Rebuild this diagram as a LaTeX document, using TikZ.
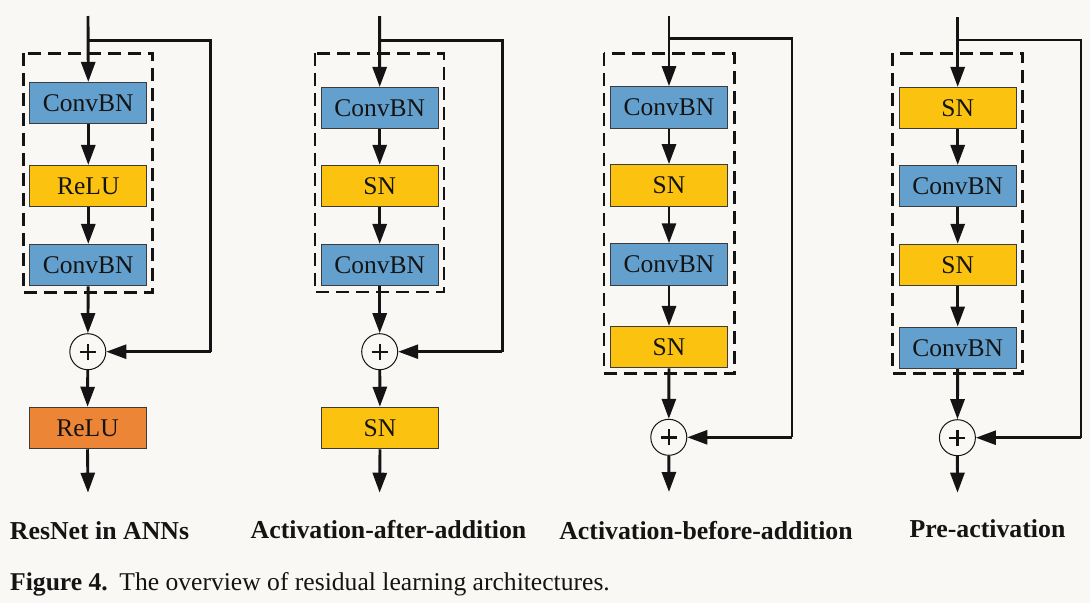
\documentclass[tikz,border=0pt]{standalone}
\usepackage{fontspec}
\setmainfont{Liberation Serif}
\usetikzlibrary{arrows.meta}
\definecolor{bg}{HTML}{F9F8F4}
\definecolor{cbn}{HTML}{64A0CD}
\definecolor{snc}{HTML}{FBC210}
\definecolor{orc}{HTML}{ED8536}
\definecolor{ink}{HTML}{141414}
\definecolor{edge}{HTML}{3C3C3C}
\tikzset{
  blk/.style={draw=edge, line width=1pt, minimum width=117pt, minimum height=41.5pt, inner sep=0pt,
    font=\fontsize{25.5}{30}\selectfont, text=ink},
  convbn/.style={blk, fill=cbn},
  snbox/.style={blk, fill=snc},
  relubox/.style={blk, fill=orc},
  adder/.style={circle, draw=ink, line width=1pt, minimum size=36pt, inner sep=0pt, fill=bg,
    path picture={\draw[ink, line width=2.4pt] ([xshift=-8pt]path picture bounding box.center) -- ([xshift=8pt]path picture bounding box.center);
                  \draw[ink, line width=2.4pt] ([yshift=-8pt]path picture bounding box.center) -- ([yshift=8pt]path picture bounding box.center);}},
  flow/.style={ink, line width=2.9pt, -{Triangle[length=20pt,width=14pt]}},
  skipline/.style={ink, line width=2.6pt},
  skiparrow/.style={ink, line width=2.6pt, -{Triangle[length=20pt,width=14pt]}},
  groupbox/.style={ink, line width=2.8pt, dash pattern=on 13pt off 7pt},
  title/.style={font=\bfseries\fontsize{25.8}{30}\selectfont, text=ink, anchor=base, inner sep=0pt},
}
\begin{document}
\begin{tikzpicture}[x=1pt,y=-1pt]
\fill[bg] (0,0) rectangle (1090,603);
\useasboundingbox (0,0) rectangle (1090,603);

% ---------- Column 1: ResNet in ANNs ----------
\draw[groupbox] (23.3,53.3) rectangle (152.7,292.5);
\coordinate (in1) at (88,16);
\coordinate (j1) at (88,40.7);
\coordinate (r1a) at (210.7,40.7);
\coordinate (r1b) at (210.7,351.7);
\coordinate (out1) at (88,492.7);
\node[convbn] (a1) at (88.3,103.2) {ConvBN};
\node[snbox] (a2) at (88.3,186.2) {ReLU};
\node[convbn] (a3) at (88.3,265.2) {ConvBN};
\node[adder] (p1) at (87.8,351.7) {};
\node[relubox] (a4) at (87.5,428) {ReLU};
\draw[flow] (in1) -- (a1.north);
\draw[flow] (a1) -- (a2);
\draw[flow] (a2) -- (a3);
\draw[flow] (a3) -- (p1);
\draw[flow] (p1) -- (a4);
\draw[flow] (a4.south) -- (out1);
\draw[skipline] (j1) -- (r1a) -- (r1b);
\draw[skiparrow] (r1b) -- (p1.east);
\node[title] (t1) at (99.5,539) {ResNet in ANNs};

% ---------- Column 2: Activation-after-addition ----------
\draw[groupbox] (315,53.3) rectangle (444,292);
\coordinate (in2) at (379.6,16);
\coordinate (j2) at (379.6,40.7);
\coordinate (r2a) at (502.3,40.7);
\coordinate (r2b) at (502.3,351.7);
\coordinate (out2) at (379.6,492.7);
\node[convbn] (b1) at (379.7,108.2) {ConvBN};
\node[snbox] (b2) at (379.7,186) {SN};
\node[convbn] (b3) at (379.7,265.2) {ConvBN};
\node[adder] (p2) at (379.7,351.7) {};
\node[snbox] (b4) at (380,428) {SN};
\draw[flow] (in2) -- (b1.north);
\draw[flow] (b1) -- (b2);
\draw[flow] (b2) -- (b3);
\draw[flow] (b3) -- (p2);
\draw[flow] (p2) -- (b4);
\draw[flow] (b4.south) -- (out2);
\draw[skipline] (j2) -- (r2a) -- (r2b);
\draw[skiparrow] (r2b) -- (p2.east);
\node[title] (t2) at (388.5,538.5) {Activation-after-addition};

% ---------- Column 3: Activation-before-addition ----------
\draw[groupbox] (604,53.3) rectangle (734.5,373.3);
\coordinate (in3) at (669,16);
\coordinate (j3) at (669,38.7);
\coordinate (r3a) at (792,38.7);
\coordinate (r3b) at (792,437.3);
\coordinate (out3) at (669,492);
\node[convbn] (c1) at (669,107.4) {ConvBN};
\node[snbox] (c2) at (669,185.4) {SN};
\node[convbn] (c3) at (669,264.5) {ConvBN};
\node[snbox] (c4) at (669,347.2) {SN};
\node[adder] (p3) at (668.8,437.3) {};
\draw[flow] (in3) -- (c1.north);
\draw[flow] (c1) -- (c2);
\draw[flow] (c2) -- (c3);
\draw[flow] (c3) -- (c4);
\draw[flow] (c4) -- (p3);
\draw[flow] (p3.south) -- (out3);
\draw[skipline] (j3) -- (r3a) -- (r3b);
\draw[skiparrow] (r3b) -- (p3.east);
\node[title] (t3) at (706,539) {Activation-before-addition};

% ---------- Column 4: Pre-activation ----------
\draw[groupbox] (892.7,53.3) rectangle (1022.7,373.3);
\coordinate (in4) at (957.7,17);
\coordinate (j4) at (957.7,40);
\coordinate (r4a) at (1081,40);
\coordinate (r4b) at (1081,437.7);
\coordinate (out4) at (957.5,492.7);
\node[snbox] (d1) at (957.7,108.2) {SN};
\node[convbn] (d2) at (957.7,186.2) {ConvBN};
\node[snbox] (d3) at (957.7,265) {SN};
\node[convbn] (d4) at (957.7,347.8) {ConvBN};
\node[adder] (p4) at (957.4,437.7) {};
\draw[flow] (in4) -- (d1.north);
\draw[flow] (d1) -- (d2);
\draw[flow] (d2) -- (d3);
\draw[flow] (d3) -- (d4);
\draw[flow] (d4) -- (p4);
\draw[flow] (p4.south) -- (out4);
\draw[skipline] (j4) -- (r4a) -- (r4b);
\draw[skiparrow] (r4b) -- (p4.east);
\node[title] (t4) at (987.5,537) {Pre-activation};

% ---------- Caption ----------
\node[anchor=base west, inner sep=0pt, text=ink, font=\fontsize{25.6}{30}\selectfont] (cap) at (10,590)
  {\textbf{Figure 4.}\hspace{0.45em}The overview of residual learning architectures.};
\end{tikzpicture}
\end{document}
